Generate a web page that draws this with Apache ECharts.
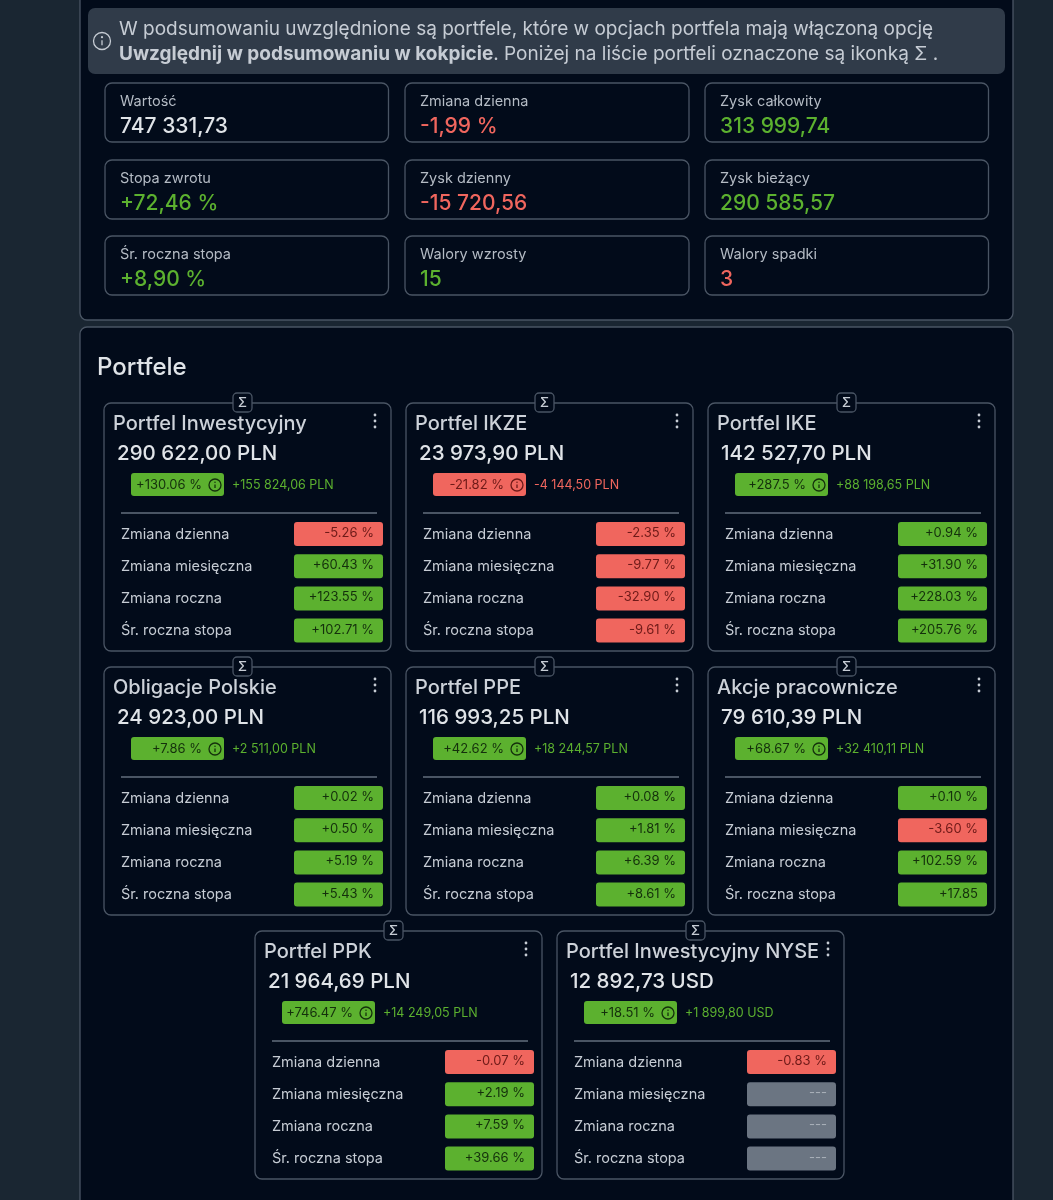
<!DOCTYPE html>
<html>
<head>
<meta charset="utf-8">
<title>Portfele</title>
<script src="https://cdn.jsdelivr.net/npm/echarts@6/dist/echarts.min.js"></script>
<style>
html, body { margin: 0; padding: 0; background: #1a2632; }
#main { width: 1053px; height: 1200px; }
</style>
</head>
<body>
<div id="main"></div>
<script>
// podsumowanie
var statLabels = ['Wartość', 'Zmiana dzienna', 'Zysk całkowity', 'Stopa zwrotu', 'Zysk dzienny', 'Zysk bieżący', 'Śr. roczna stopa', 'Walory wzrosty', 'Walory spadki'];
var statValues = ['747 331,73', '-1,99 %', '313 999,74', '+72,46 %', '-15 720,56', '290 585,57', '+8,90 %', '15', '3'];
var statTones = ['plain', 'down', 'up', 'up', 'down', 'up', 'up', 'up', 'down'];

// portfele
var rowLabels = ['Zmiana dzienna', 'Zmiana miesięczna', 'Zmiana roczna', 'Śr. roczna stopa'];
var portfolioNames = ['Portfel Inwestycyjny', 'Portfel IKZE', 'Portfel IKE', 'Obligacje Polskie', 'Portfel PPE', 'Akcje pracownicze', 'Portfel PPK', 'Portfel Inwestycyjny NYSE'];
var portfolioValues = ['290 622,00 PLN', '23 973,90 PLN', '142 527,70 PLN', '24 923,00 PLN', '116 993,25 PLN', '79 610,39 PLN', '21 964,69 PLN', '12 892,73 USD'];
var returnPct = ['+130.06 %', '-21.82 %', '+287.5 %', '+7.86 %', '+42.62 %', '+68.67 %', '+746.47 %', '+18.51 %'];
var returnAmount = ['+155 824,06 PLN', '-4 144,50 PLN', '+88 198,65 PLN', '+2 511,00 PLN', '+18 244,57 PLN', '+32 410,11 PLN', '+14 249,05 PLN', '+1 899,80 USD'];
var dailyChange = ['-5.26 %', '-2.35 %', '+0.94 %', '+0.02 %', '+0.08 %', '+0.10 %', '-0.07 %', '-0.83 %'];
var monthlyChange = ['+60.43 %', '-9.77 %', '+31.90 %', '+0.50 %', '+1.81 %', '-3.60 %', '+2.19 %', '---'];
var yearlyChange = ['+123.55 %', '-32.90 %', '+228.03 %', '+5.19 %', '+6.39 %', '+102.59 %', '+7.59 %', '---'];
var annualRate = ['+102.71 %', '-9.61 %', '+205.76 %', '+5.43 %', '+8.61 %', '+17.85', '+39.66 %', '---'];

var FONT = 'Inter, "Noto Sans", sans-serif';
var BG = '#020b1a', LINE = '#4a5564', TXT = '#c6ccd4', TXT2 = '#e0e4e8';
var GREEN = '#5cb12f', RED = '#f0665e', GREY = '#6b7582';
var els = [];

function box(x, y, w, h, r, fill, stroke) {
    els.push({
        type: 'rect',
        shape: { x: x, y: y, width: w, height: h, r: r },
        style: { fill: fill || 'transparent', stroke: stroke || null, lineWidth: stroke ? 1.3 : 0 }
    });
}
function label(str, x, y, size, color, weight, align) {
    els.push({
        type: 'text',
        style: {
            text: str, x: x, y: y, fill: color, fontFamily: FONT, fontSize: size,
            fontWeight: weight || 400, align: align || 'left', verticalAlign: 'middle'
        }
    });
}
function infoIcon(cx, cy, r, color) {
    els.push({ type: 'circle', shape: { cx: cx, cy: cy, r: r }, style: { fill: 'transparent', stroke: color, lineWidth: 1.3 } });
    els.push({ type: 'circle', shape: { cx: cx, cy: cy - r * 0.45, r: r * 0.13 }, style: { fill: color } });
    els.push({ type: 'line', shape: { x1: cx, y1: cy - r * 0.1, x2: cx, y2: cy + r * 0.5 }, style: { stroke: color, lineWidth: 1.3 } });
}
function toneColor(s) {
    if (s.charAt(0) === '+') return GREEN;
    if (s === '---') return GREY;
    return RED;
}
function pillText(s) {
    if (s.charAt(0) === '+') return '#14300c';
    if (s === '---') return '#a7aeb7';
    return '#6e1a18';
}

// tlo paneli
box(80, -12, 933, 332, 7, BG, LINE);
box(80, 327, 933, 890, 7, BG, LINE);

// komunikat
box(88, 8, 917, 66, 7, '#303b49');
infoIcon(102, 41, 8.5, '#c6ccd4');
els.push({
    type: 'text',
    style: {
        text: 'W podsumowaniu uwzględnione są portfele, które w opcjach portfela mają włączoną opcję\n{b|Uwzględnij w podsumowaniu w kokpicie}. Poniżej na liście portfeli oznaczone są ikonką Σ .',
        x: 119, y: 42, fill: TXT, fontFamily: FONT, fontSize: 19, lineHeight: 25, align: 'left', verticalAlign: 'middle',
        rich: { b: { fontFamily: FONT, fontSize: 19, fontWeight: 700, fill: TXT, lineHeight: 25 } }
    }
});

// karty podsumowania
var statX = [105, 405, 705], statY = [83, 160, 236];
statLabels.forEach(function (name, i) {
    var x = statX[i % 3], y = statY[Math.floor(i / 3)];
    box(x, y, i % 3 === 1 ? 284 : 283.5, 59, 7, BG, LINE);
    label(name, x + 15, y + 19, 14.5, '#b4bbc4');
    var c = statTones[i] === 'up' ? GREEN : (statTones[i] === 'down' ? RED : TXT2);
    label(statValues[i], x + 15, y + 43.5, 21, c, 500);
});

label('Portfele', 97, 368, 24, TXT2, 500);

// karty portfeli
var cardX = [104, 406, 708, 104, 406, 708, 255, 557];
var cardY = [403, 403, 403, 667, 667, 667, 931, 931];
portfolioNames.forEach(function (name, i) {
    var x = cardX[i], y = cardY[i];
    box(x, y, 287, 248, 7, BG, LINE);

    // znacznik sumy
    box(x + 129, y - 10, 19, 19, 4, BG, LINE);
    label('Σ', x + 138.5, y, 13, TXT, 500, 'center');

    // menu
    [-6, 0, 6].forEach(function (d) {
        els.push({ type: 'circle', shape: { cx: x + 271, cy: y + 18 + d, r: 1.4 }, style: { fill: TXT } });
    });

    label(name, x + 9, y + 21, 20, '#cdd2d9', 500);
    label(portfolioValues[i], x + 13, y + 51, 20.5, TXT2, 500);

    var up = returnPct[i].charAt(0) === '+';
    box(x + 27, y + 70, 93, 23, 3, up ? GREEN : RED);
    label(returnPct[i], x + 73, y + 82, 13, pillText(returnPct[i]), 400, 'right');
    els[els.length - 1].style.x = x + 72 + 26;
    infoIcon(x + 111, y + 82, 6, pillText(returnPct[i]));
    label(returnAmount[i], x + 128, y + 82, 12.5, up ? GREEN : RED);

    els.push({ type: 'line', shape: { x1: x + 17, y1: y + 110, x2: x + 273, y2: y + 110 }, style: { stroke: LINE, lineWidth: 2 } });

    var rowValues = [dailyChange[i], monthlyChange[i], yearlyChange[i], annualRate[i]];
    rowLabels.forEach(function (rowName, j) {
        var ry = y + 119 + j * 32.2;
        label(rowName, x + 17, ry + 12.5, 14.5, TXT);
        box(x + 190, ry, 89, 24, 3, toneColor(rowValues[j]));
        label(rowValues[j], x + 270, ry + 11, 13, pillText(rowValues[j]), 400, 'right');
    });
});

var myChart = echarts.init(document.getElementById('main'), null, { renderer: 'canvas' });
myChart.setOption({
    backgroundColor: '#1a2632',
    animation: false,
    graphic: { elements: els }
});
</script>
</body>
</html>
